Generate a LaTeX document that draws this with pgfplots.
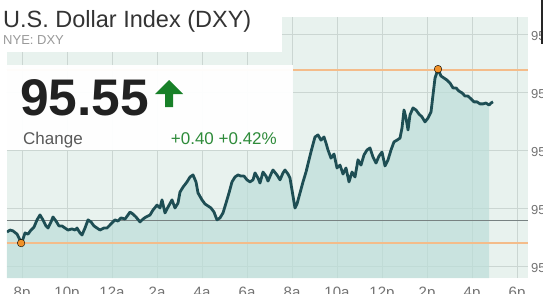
\documentclass[border=0pt]{standalone}
\usepackage{pgfplots}
\usepackage{pgfplotstable}
\pgfplotsset{compat=1.18}
\usepackage{fontspec}
\setmainfont{Liberation Sans}
\definecolor{bgc}{RGB}{232,242,238}
\definecolor{fillc}{RGB}{188,222,217}
\definecolor{gridc}{RGB}{203,214,210}
\definecolor{linec}{RGB}{30,78,84}
\definecolor{hilo}{RGB}{244,188,138}
\definecolor{dotc}{RGB}{240,145,40}
\definecolor{prevc}{RGB}{120,130,130}
\definecolor{upgreen}{RGB}{24,128,40}
\definecolor{chgreen}{RGB}{46,139,58}

\pgfplotstableread{
h v
-0.667 95.117
-0.533 95.124
-0.400 95.121
-0.222 95.110
-0.089 95.090
0.000 95.083
0.133 95.114
0.267 95.110
0.400 95.124
0.533 95.134
0.667 95.159
0.800 95.176
0.933 95.159
1.067 95.138
1.156 95.131
1.289 95.152
1.378 95.169
1.511 95.155
1.644 95.138
1.778 95.138
1.911 95.131
2.044 95.124
2.222 95.128
2.356 95.124
2.444 95.131
2.578 95.114
2.667 95.107
2.800 95.131
2.933 95.159
3.067 95.152
3.200 95.138
3.333 95.131
3.467 95.124
3.644 95.131
3.778 95.131
3.956 95.145
4.133 95.159
4.267 95.155
4.400 95.166
4.578 95.162
4.711 95.176
4.800 95.186
4.933 95.179
5.067 95.169
5.244 95.152
5.378 95.162
5.511 95.169
5.689 95.176
5.822 95.193
6.000 95.210
6.133 95.200
6.222 95.228
6.356 95.183
6.489 95.203
6.667 95.228
6.800 95.200
6.933 95.217
7.022 95.255
7.156 95.272
7.333 95.290
7.467 95.307
7.600 95.314
7.733 95.290
7.822 95.252
8.000 95.228
8.133 95.214
8.267 95.207
8.400 95.200
8.533 95.186
8.667 95.159
8.800 95.166
8.933 95.183
9.067 95.217
9.200 95.252
9.333 95.290
9.467 95.307
9.600 95.314
9.733 95.310
9.867 95.310
10.000 95.297
10.133 95.290
10.267 95.297
10.356 95.321
10.489 95.303
10.578 95.286
10.711 95.324
10.844 95.310
10.933 95.293
11.067 95.317
11.156 95.331
11.333 95.314
11.467 95.297
11.600 95.321
11.689 95.331
11.822 95.317
11.911 95.303
12.000 95.262
12.133 95.200
12.222 95.214
12.356 95.252
12.489 95.290
12.622 95.324
12.756 95.366
12.889 95.407
13.022 95.445
13.156 95.452
13.289 95.434
13.422 95.445
13.511 95.424
13.600 95.400
13.733 95.372
13.867 95.386
14.000 95.338
14.133 95.348
14.267 95.317
14.400 95.338
14.533 95.290
14.667 95.324
14.800 95.307
14.933 95.366
15.067 95.348
15.200 95.383
15.333 95.400
15.467 95.407
15.600 95.376
15.733 95.355
15.867 95.379
16.000 95.393
16.133 95.345
16.267 95.366
16.400 95.400
16.533 95.428
16.667 95.434
16.800 95.441
16.889 95.476
16.978 95.538
17.067 95.510
17.156 95.469
17.244 95.521
17.378 95.545
17.511 95.538
17.644 95.524
17.778 95.514
17.911 95.497
18.044 95.510
18.178 95.531
18.267 95.590
18.356 95.648
18.489 95.679
18.622 95.655
18.756 95.648
18.889 95.641
19.022 95.631
19.156 95.614
19.289 95.614
19.422 95.603
19.556 95.597
19.689 95.586
19.822 95.586
19.956 95.576
20.089 95.566
20.222 95.566
20.356 95.559
20.489 95.559
20.622 95.562
20.756 95.555
20.844 95.562
20.933 95.566
}\dxy

\begin{document}
\begin{tikzpicture}
\useasboundingbox (0,0) rectangle (543pt,293pt);
\clip (0,0) rectangle (543pt,293pt);
\fill[white] (0,0) rectangle (543pt,293pt);
\begin{axis}[
  at={(7pt,15pt)}, anchor=south west,
  scale only axis, width=521pt, height=261pt,
  xmin=-0.667, xmax=22.489, ymin=94.9586, ymax=95.8586,
  axis background/.style={fill=bgc},
  axis line style={draw=none},
  tick style={draw=none},
  grid=major,
  major grid style={draw=gridc, line width=0.8pt},
  xtick={0,2,4,6,8,10,12,14,16,18,20,22},
  xticklabels={8p,10p,12a,2a,4a,6a,8a,10a,12p,2p,4p,6p},
  xticklabel style={font=\fontsize{15pt}{18pt}\selectfont, text=black!55, anchor=north, inner sep=0pt, yshift=-9pt},
  ytick={95,95.2,95.4,95.6,95.8},
  yticklabels={95.00,95.20,95.40,95.60,95.80},
  yticklabel pos=right,
  yticklabel style={font=\fontsize{13pt}{15pt}\selectfont, text=black!55, anchor=west, inner sep=0pt, xshift=3pt, yshift=-2pt},
]
\addplot[draw=none, fill=fillc, fill opacity=0.7, restrict x to domain=-1:20.76] table[x=h, y=v] {\dxy} \closedcycle;
\addplot[prevc, line width=1pt] coordinates {(-0.667,95.156) (22.489,95.156)};
\addplot[hilo, line width=1.4pt] coordinates {(-0.667,95.676) (22.489,95.676)};
\addplot[hilo, line width=1.4pt] coordinates {(-0.667,95.079) (22.489,95.079)};
\addplot[linec, line width=2.8pt, line join=round] table[x=h, y=v] {\dxy};
\addplot[only marks, mark=*, mark size=3.8pt, mark options={fill=dotc, draw=none}] coordinates {(-0.04,95.079) (18.49,95.679)};
\end{axis}
% title box
\fill[white] (0,241pt) rectangle (282pt,293pt);
\node[anchor=base west, inner sep=0pt, text=black!80] at (3pt,266pt) {\fontsize{23.5pt}{28pt}\selectfont U.S. Dollar Index (DXY)};
\node[anchor=base west, inner sep=0pt, text=black!40] at (3pt,249pt) {\fontsize{13pt}{15pt}\selectfont NYE: DXY};
% value box
\fill[white, opacity=0.96] (0,143pt) rectangle (293pt,228pt);
\node[anchor=base west, inner sep=0pt, text=black!87] at (20pt,178pt) {\fontsize{51.5pt}{60pt}\selectfont\bfseries 95.55};
\fill[upgreen] (155pt,199pt) -- (169pt,213pt) -- (183pt,199pt) -- (173pt,199pt) -- (173pt,186pt) -- (165pt,186pt) -- (165pt,199pt) -- cycle;
\node[anchor=base west, inner sep=0pt, text=black!65] at (23pt,149pt) {\fontsize{17pt}{20pt}\selectfont Change};
\node[anchor=base east, inner sep=0pt, text=chgreen] at (277pt,149pt) {\fontsize{17pt}{20pt}\selectfont +0.40 +0.42\%};
% screen artefact at top right
\fill[black!85] (540.5pt,249pt) rectangle (543pt,293pt);
\end{tikzpicture}
\end{document}
